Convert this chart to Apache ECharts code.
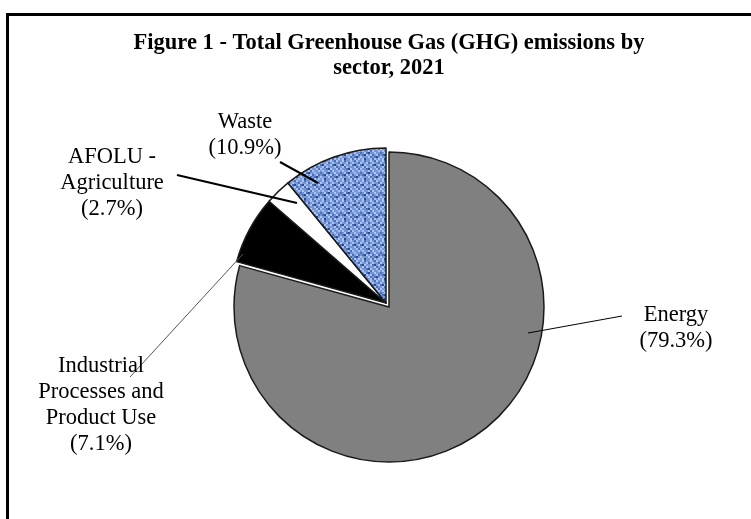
<!DOCTYPE html>
<html>
<head>
<meta charset="utf-8">
<script src="https://cdn.jsdelivr.net/npm/echarts@6/dist/echarts.min.js"></script>
<style>html,body{margin:0;padding:0;background:#fff}#c{width:751px;height:519px}</style>
</head>
<body>
<div id="c"></div>
<script>
// ---- data ----
const categories = ['Energy', 'Industrial Processes and Product Use', 'AFOLU - Agriculture', 'Waste'];
const labelNames = ['Energy', 'Industrial\nProcesses and\nProduct Use', 'AFOLU -\nAgriculture', 'Waste'];
const shares = [79.3, 7.1, 2.7, 10.9];
const titleText = 'Figure 1 - Total Greenhouse Gas (GHG) emissions by\nsector, 2021';

// ---- layout / style (kept apart from the data) ----
const labelSpots = [
  {x: 676, y: 328, line: [[622, 316], [528, 333]], lw: 1, lc: '#000'},
  {x: 101, y: 405, line: [[130, 377], [243, 254]], lw: 1, lc: '#555'},
  {x: 112, y: 183, line: [[177, 175], [297, 203]], lw: 2, lc: '#000'},
  {x: 245, y: 135, line: [[280, 162], [318, 183]], lw: 2, lc: '#000'}
];
// which slices belong to the pulled-out group
const pulled = [false, true, true, true];

// woven texture for the Waste slice (fixed motif, 2px cells)
const weave = [
  '0120010210',
  '1001201002',
  '2310012301',
  '0121000120',
  '1002310012',
  '0100121001',
  '2012300100',
  '0231012012',
  '1000120230',
  '0130012101'
];
const weaveColors = ['#7796d6', '#a9c3f2', '#4d6fb5', '#2c4a8a'];
function wastePattern() {
  const c = document.createElement('canvas');
  c.width = 20; c.height = 20;
  const g = c.getContext('2d');
  weave.forEach((row, r) => {
    for (let k = 0; k < row.length; k++) {
      g.fillStyle = weaveColors[+row[k]];
      g.fillRect(k * 2, r * 2, 2, 2);
    }
  });
  return c;
}

const fills = ['#808080', '#000000', '#ffffff', {image: wastePattern(), repeat: 'repeat'}];

const chart = echarts.init(document.getElementById('c'), null, {renderer: 'canvas'});
const serif = '"Liberation Serif", "Times New Roman", serif';

// mode: 'base' (Energy), 'pulled' (small slices, shifted), 'labels' (transparent, on top)
function pieSeries(center, mode) {
  const withLabels = mode === 'labels';
  return {
    type: 'pie',
    center: center,
    radius: 155,
    startAngle: 90,
    clockwise: true,
    percentPrecision: 1,
    avoidLabelOverlap: false,
    z: withLabels ? 5 : 2,
    emphasis: {disabled: true},
    silent: true,
    label: {
      show: withLabels,
      position: 'outside',
      fontFamily: serif,
      fontSize: 22.5,
      lineHeight: 26,
      color: '#000',
      align: 'center',
      formatter: p => labelNames[p.dataIndex] + '\n(' + p.percent.toFixed(1) + '%)'
    },
    labelLine: {show: withLabels, lineStyle: {color: '#000', width: 1}},
    labelLayout: function (p) {
      const s = labelSpots[p.dataIndex];
      return {
        x: s.x, y: s.y, align: 'center', verticalAlign: 'middle',
        labelLinePoints: [s.line[1], s.line[0], s.line[0]]
      };
    },
    data: categories.map((name, i) => {
      const visible = !withLabels && (pulled[i] === (mode === 'pulled'));
      return {
        name: name,
        value: shares[i],
        itemStyle: visible
          ? {color: fills[i], borderColor: '#1a1a1a', borderWidth: 1.5}
          : {color: 'rgba(0,0,0,0)', borderWidth: 0},
        labelLine: {lineStyle: {color: labelSpots[i].lc, width: labelSpots[i].lw}}
      };
    })
  };
}

chart.setOption({
  animation: false,
  backgroundColor: '#fff',
  title: {
    text: titleText,
    left: 384, top: 26,
    textAlign: 'center',
    textStyle: {fontFamily: serif, fontWeight: 'bold', fontSize: 22.5, lineHeight: 25, color: '#000'}
  },
  graphic: [{
    type: 'rect',
    shape: {x: 7.5, y: 14.5, width: 800, height: 600},
    style: {fill: null, stroke: '#000', lineWidth: 3},
    silent: true
  }],
  series: [
    pieSeries([389, 307], 'base'),
    pieSeries([386, 303], 'pulled'),
    pieSeries([386, 303], 'labels')
  ]
});
</script>
</body>
</html>
